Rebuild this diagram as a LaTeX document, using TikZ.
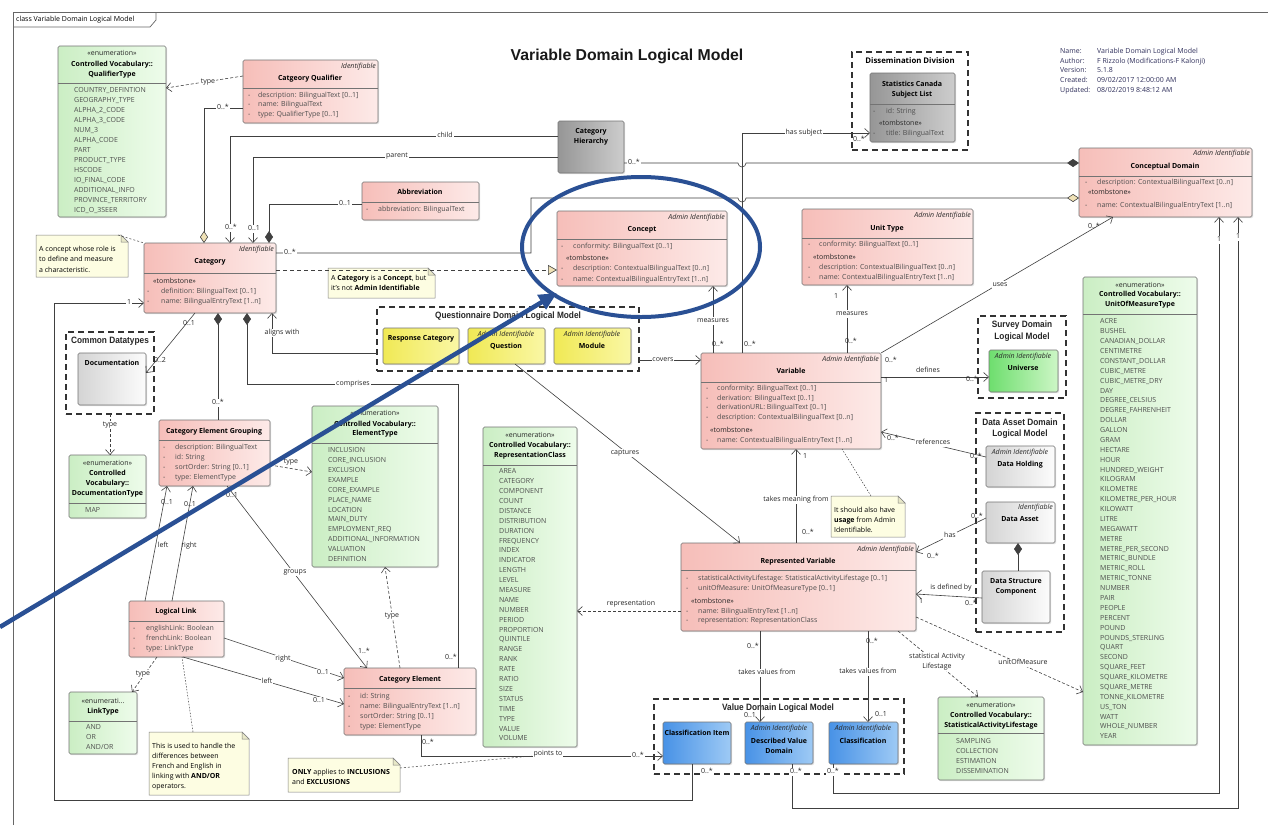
\documentclass[tikz,border=0pt]{standalone}
\usepackage{fontspec}
\setmainfont{Open Sans}
\newfontfamily\pkgfont[FakeStretch=0.9]{Liberation Sans}
\newfontfamily\titlefont{Liberation Sans}
\usepackage{xcolor}
\usetikzlibrary{arrows.meta, shadows, calc}

\definecolor{pinkL}{RGB}{246,190,185}
\definecolor{pinkR}{RGB}{253,234,232}
\definecolor{greenL}{RGB}{203,238,196}
\definecolor{greenR}{RGB}{238,252,235}
\definecolor{grayL}{RGB}{150,150,150}
\definecolor{grayR}{RGB}{205,205,205}
\definecolor{lgrayL}{RGB}{212,212,212}
\definecolor{lgrayR}{RGB}{252,252,252}
\definecolor{yelL}{RGB}{240,233,85}
\definecolor{yelR}{RGB}{250,247,165}
\definecolor{blueL}{RGB}{72,146,230}
\definecolor{blueR}{RGB}{158,202,245}
\definecolor{univL}{RGB}{110,222,110}
\definecolor{univR}{RGB}{205,246,198}
\definecolor{notefill}{RGB}{253,253,226}
\definecolor{notefold}{RGB}{232,232,200}
\definecolor{diafill}{RGB}{240,226,182}
\definecolor{annot}{RGB}{42,80,148}
\definecolor{txt}{RGB}{78,78,78}
\definecolor{infotxt}{RGB}{48,48,92}

\newcommand\umlbox[6]{\node[#1, minimum width=#5pt-#3pt, minimum height=#6pt-#4pt] (#2) at (#3,#4) {};}
\newcommand\umlattr[5]{\node[item] (#1-d) at (#2,#4) {-}; \node[item] (#1) at (#3,#4) {#5};}
\newcommand\umlitems[5]{\foreach \e [count=\i] in {#5} {\node[item] (#1-\i) at (#2,#3+#4*\i-#4) {\e};}}
\newcommand\rowline[2]{\draw[sepline] (#1.west |- 0,#2) -- (#1.east |- 0,#2);}
\newcommand\umlnote[5]{%
  \node[noteframe, minimum width=#4pt-#2pt, minimum height=#5pt-#3pt] (#1) at (#2,#3) {};
  \filldraw[notebox] (#1.north west) -- ($(#1.north east)+(-7,0)$) -- ($(#1.north east)+(0,7)$) -- (#1.south east) -- (#1.south west) -- cycle;
  \filldraw[notebox, fill=notefold] ($(#1.north east)+(-7,0)$) -- ($(#1.north east)+(-7,7)$) -- ($(#1.north east)+(0,7)$) -- cycle;}

\begin{document}
\begin{tikzpicture}[x=1pt, y=-1pt]
    \tikzstyle{classbox} = [rectangle, draw=black!55, line width=0.6pt, rounded corners=1.5pt, inner sep=0pt, outer sep=0pt, anchor=north west, drop shadow={shadow xshift=1.2pt, shadow yshift=-1.2pt, opacity=0.25}]
    \tikzstyle{pinkbox} = [classbox, left color=pinkL, right color=pinkR]
    \tikzstyle{greenbox} = [classbox, left color=greenL, right color=greenR]
    \tikzstyle{graybox} = [classbox, left color=grayL, right color=grayR]
    \tikzstyle{whitebox} = [classbox, left color=lgrayL, right color=lgrayR]
    \tikzstyle{yellowbox} = [classbox, left color=yelL, right color=yelR]
    \tikzstyle{bluebox} = [classbox, left color=blueL, right color=blueR]
    \tikzstyle{univbox} = [classbox, left color=univL, right color=univR]
    \tikzstyle{pkg} = [rectangle, draw=black!80, line width=1.5pt, dash pattern=on 6pt off 4pt, inner sep=0pt, outer sep=0pt, anchor=north west]
    \tikzstyle{noteframe} = [rectangle, inner sep=0pt, outer sep=0pt, anchor=north west]
    \tikzstyle{notebox} = [draw=black!50, line width=0.5pt, fill=notefill]
    \tikzstyle{sepline} = [draw=black!55, line width=0.6pt]
    \tikzstyle{item} = [font=\fontsize{7}{9}\selectfont, text=txt, anchor=west, inner sep=0pt, text height=5.2pt, text depth=1.5pt]
    \tikzstyle{cname} = [font=\fontsize{7}{9}\selectfont\bfseries, text=black, inner sep=0pt, text height=5.4pt, text depth=1.6pt]
    \tikzstyle{ster} = [font=\fontsize{7}{9}\selectfont\itshape, text=black!85, inner sep=0pt, anchor=east, text height=5.2pt, text depth=1.5pt]
    \tikzstyle{lbl} = [font=\fontsize{7}{9}\selectfont, text=black!85, inner sep=0.8pt, text height=5.2pt, text depth=1.5pt]
    \tikzstyle{onl} = [lbl, fill=white]
    \tikzstyle{lbltwo} = [font=\fontsize{7}{10}\selectfont, text=black!85, inner sep=0.8pt, align=center, fill=white]
    \tikzstyle{notetext} = [font=\fontsize{7}{9}\selectfont, text=black, anchor=west, inner sep=0pt, text height=5.2pt, text depth=1.5pt]
    \tikzstyle{pkgtitle} = [font=\pkgfont\bfseries\fontsize{9.2}{10}\selectfont, text=black!85, inner sep=0pt]
    \tikzstyle{info} = [font=\fontsize{7}{9}\selectfont, text=infotxt, anchor=west, inner sep=0pt, text height=5.2pt, text depth=1.5pt]
    \tikzstyle{conn} = [draw=black!75, line width=0.6pt]
    \tikzstyle{nav} = [conn, -{Straight Barb[length=5pt,width=9pt]}]
    \tikzstyle{dep} = [nav, dash pattern=on 3pt off 2pt]
    \tikzstyle{comp} = [conn, {Diamond[length=12pt,width=8pt]}-]
    \tikzstyle{compend} = [conn, -{Diamond[length=12pt,width=8pt]}]
    \tikzstyle{aggr} = [conn, {Diamond[length=12pt,width=8pt,fill=diafill]}-]
    \tikzstyle{aggrend} = [conn, -{Diamond[length=12pt,width=8pt,fill=diafill]}]
    \tikzstyle{real} = [conn, dash pattern=on 4pt off 3pt, -{Triangle[length=9pt,width=10pt,fill=diafill]}]
    \tikzstyle{notelink} = [conn, line width=0.5pt, dash pattern=on 1.5pt off 1.5pt]

    \fill[white] (0,0) rectangle (1268,825);
    \useasboundingbox (0,0) rectangle (1268,825);

    \draw[black!60, line width=0.7pt] (13,825) -- (13,12) -- (1268,12);
    \draw[black!60, line width=0.7pt] (13,27) -- (150,27) -- (156,20) -- (156,12);
    \node[notetext] (framelbl) at (16,19.5) {class Variable Domain Logical Model};
    \node[font=\titlefont\bfseries\fontsize{15.8}{18}\selectfont, text=black!90] (title) at (627,56) {Variable Domain Logical Model};

    \node[info] (info-k1) at (1060,52) {Name:};
    \node[info] (info-k2) at (1060,62) {Author:};
    \node[info] (info-k3) at (1060,71) {Version:};
    \node[info] (info-k4) at (1060,81) {Created:};
    \node[info] (info-k5) at (1060,91) {Updated:};
    \node[info] (info-v1) at (1097,52) {Variable Domain Logical Model};
    \node[info] (info-v2) at (1097,62) {F Rizzolo (Modifications-F Kalonji)};
    \node[info] (info-v3) at (1097,71) {5.1.8};
    \node[info] (info-v4) at (1097,81) {09/02/2017 12:00:00 AM};
    \node[info] (info-v5) at (1097,91) {08/02/2019 8:48:12 AM};

    \umlbox{pkg}{disspkg}{852}{52}{968}{150}
    \umlbox{pkg}{questpkg}{377}{307}{639}{371}
    \umlbox{pkg}{commonpkg}{66}{332}{154}{414}
    \umlbox{pkg}{surveypkg}{978}{316}{1066}{398}
    \umlbox{pkg}{assetpkg}{976}{413}{1064}{632}
    \umlbox{pkg}{valpkg}{654}{699}{904}{774}
    \node[cname, font=\fontsize{7.8}{10}\selectfont\bfseries] (diss-t) at (910,62) {Dissemination Division};
    \node[pkgtitle] (quest-t) at (508,316) {Questionnaire Domain Logical Model};
    \node[pkgtitle] (common-t) at (110,341) {Common Datatypes};
    \node[pkgtitle] (survey-t1) at (1022,325) {Survey Domain};
    \node[pkgtitle] (survey-t2) at (1022,337) {Logical Model};
    \node[pkgtitle] (asset-t1) at (1020,422) {Data Asset Domain};
    \node[pkgtitle] (asset-t2) at (1020,434) {Logical Model};
    \node[pkgtitle] (val-t) at (778,708) {Value Domain Logical Model};

    \umlbox{greenbox}{qtype}{58}{46}{166}{217}
    \umlbox{pinkbox}{cq}{243}{60}{378}{123}
    \umlbox{graybox}{chier}{558}{121}{624}{173}
    \umlbox{pinkbox}{abbr}{362}{182}{479}{220}
    \umlbox{pinkbox}{concept}{557}{211}{727}{286}
    \umlbox{graybox}{subj}{870}{73}{955}{142}
    \umlbox{pinkbox}{cdom}{1079}{148}{1252}{217}
    \umlbox{pinkbox}{unit}{802}{209}{973}{285}
    \umlbox{pinkbox}{cat}{144}{243}{276}{313}
    \umlbox{whitebox}{doc}{78}{353}{146}{405}
    \umlbox{yellowbox}{resp}{383}{328}{459}{364}
    \umlbox{yellowbox}{quest}{468}{328}{545}{364}
    \umlbox{yellowbox}{module}{554}{328}{631}{364}
    \umlbox{pinkbox}{var}{701}{353}{881}{449}
    \umlbox{univbox}{univ}{989}{350}{1058}{392}
    \umlbox{whitebox}{dhold}{986}{446}{1055}{487}
    \umlbox{whitebox}{dasset}{986}{502}{1055}{543}
    \umlbox{whitebox}{dsc}{982}{571}{1050}{623}
    \umlbox{greenbox}{uom}{1083}{277}{1197}{745}
    \umlbox{pinkbox}{ceg}{159}{420}{270}{486}
    \umlbox{greenbox}{etype}{312}{406}{438}{567}
    \umlbox{greenbox}{doctype}{69}{455}{146}{518}
    \umlbox{greenbox}{rclass}{483}{427}{577}{747}
    \umlbox{pinkbox}{rv}{681}{543}{916}{631}
    \umlbox{pinkbox}{ce}{344}{668}{476}{735}
    \umlbox{pinkbox}{ll}{129}{601}{224}{657}
    \umlbox{greenbox}{ltype}{69}{692}{137}{754}
    \umlbox{bluebox}{citem}{663}{722}{731}{764}
    \umlbox{bluebox}{dvd}{745}{722}{813}{764}
    \umlbox{bluebox}{cls}{829}{722}{898}{764}
    \umlbox{greenbox}{salife}{938}{697}{1044}{780}

    \rowline{qtype}{83} \rowline{cq}{88} \rowline{abbr}{202} \rowline{concept}{239}
    \rowline{subj}{104} \rowline{cdom}{176} \rowline{unit}{238} \rowline{cat}{273}
    \rowline{var}{382} \rowline{uom}{314} \rowline{ceg}{440} \rowline{etype}{443}
    \rowline{doctype}{503} \rowline{rclass}{465} \rowline{rv}{570} \rowline{ce}{688}
    \rowline{ll}{621} \rowline{ltype}{721} \rowline{salife}{733}

    \node[lbl, inner sep=0pt] (qtype-s) at (112,54) {«enumeration»};
    \node[cname] (qtype-n1) at (112,65) {Controlled Vocabulary::};
    \node[cname] (qtype-n2) at (112,75) {QualifierType};
    \umlitems{qtype-i}{74}{90.7}{10}{COUNTRY\_DEFINTION, GEOGRAPHY\_TYPE, ALPHA\_2\_CODE, ALPHA\_3\_CODE, NUM\_3, ALPHA\_CODE, PART, PRODUCT\_TYPE, HSCODE, IO\_FINAL\_CODE, ADDITIONAL\_INFO, PROVINCE\_TERRITORY, ICD\_O\_3SEER}

    \node[ster] (cq-s) at (376,67) {Identifiable};
    \node[cname] (cq-n) at (310,79) {Catgeory Qualifier};
    \umlattr{cq-a1}{248}{258}{96}{description: BilingualText [0..1]}
    \umlattr{cq-a2}{248}{258}{105}{name: BilingualText}
    \umlattr{cq-a3}{248}{258}{115}{type: QualifierType [0..1]}

    \node[cname] (chier-n1) at (591,132) {Category};
    \node[cname] (chier-n2) at (591,142) {Hierarchy};

    \node[cname] (abbr-n) at (420,193) {Abbreviation};
    \umlattr{abbr-a1}{366}{378}{210}{abbreviation: BilingualText}

    \node[ster] (concept-s) at (725,218) {Admin Identifiable};
    \node[cname] (concept-n) at (642,230) {Concept};
    \umlattr{concept-a1}{561}{573}{247}{conformity: BilingualText [0..1]}
    \node[lbl, anchor=west, inner sep=0pt] (concept-t) at (566,259) {«tombstone»};
    \umlattr{concept-a2}{561}{573}{269}{description: ContextualBilingualText [0..n]}
    \umlattr{concept-a3}{561}{573}{280}{name: ContextualBilingualEntryText [1..n]}

    \node[cname] (subj-n1) at (912,85) {Statistics Canada};
    \node[cname] (subj-n2) at (912,95) {Subject List};
    \umlattr{subj-a1}{873}{886}{112}{id: String}
    \node[lbl, anchor=west, inner sep=0pt] (subj-t) at (879,124) {«tombstone»};
    \umlattr{subj-a2}{873}{886}{134}{title: BilingualText}

    \node[ster] (cdom-s) at (1250,154) {Admin Identifiable};
    \node[cname] (cdom-n) at (1165,167) {Conceptual Domain};
    \umlattr{cdom-a1}{1085}{1097}{183}{description: ContextualBilingualText [0..n]}
    \node[lbl, anchor=west, inner sep=0pt] (cdom-t) at (1088,193) {«tombstone»};
    \umlattr{cdom-a2}{1085}{1097}{206}{name: ContextualBilingualEntryText [1..n]}

    \node[ster] (unit-s) at (971,216) {Admin Identifiable};
    \node[cname] (unit-n) at (887,229) {Unit Type};
    \umlattr{unit-a1}{808}{819}{245}{conformity: BilingualText [0..1]}
    \node[lbl, anchor=west, inner sep=0pt] (unit-t) at (813,258) {«tombstone»};
    \umlattr{unit-a2}{808}{819}{268}{description: ContextualBilingualText [0..n]}
    \umlattr{unit-a3}{808}{819}{278}{name: ContextualBilingualEntryText [1..n]}

    \node[ster] (cat-s) at (274,250) {Identifiable};
    \node[cname] (cat-n) at (210,262) {Category};
    \node[lbl, anchor=west, inner sep=0pt] (cat-t) at (153,282) {«tombstone»};
    \umlattr{cat-a1}{147}{161}{292}{definition: BilingualText [0..1]}
    \umlattr{cat-a2}{147}{161}{302}{name: BilingualEntryText [1..n]}

    \node[cname] (doc-n) at (112,364) {Documentation};

    \node[cname] (resp-n) at (421,339) {Response Category};
    \node[ster, anchor=center] (quest-s) at (506,335) {Admin Identifiable};
    \node[cname] (quest-n) at (506,347) {Question};
    \node[ster, anchor=center] (module-s) at (592,335) {Admin Identifiable};
    \node[cname] (module-n) at (592,347) {Module};

    \node[ster] (var-s) at (879,360) {Admin Identifiable};
    \node[cname] (var-n) at (791,372) {Variable};
    \umlattr{var-a1}{706}{717}{389}{conformity: BilingualText [0..1]}
    \umlattr{var-a2}{706}{717}{399}{derivation: BilingualText [0..1]}
    \umlattr{var-a3}{706}{717}{408}{derivationURL: BilingualText [0..1]}
    \umlattr{var-a4}{706}{717}{418}{description: ContextualBilingualText [0..n]}
    \node[lbl, anchor=west, inner sep=0pt] (var-t) at (710,431) {«tombstone»};
    \umlattr{var-a5}{706}{717}{441}{name: ContextualBilingualEntryText [1..n]}

    \node[ster, anchor=center] (univ-s) at (1023,357) {Admin Identifiable};
    \node[cname] (univ-n) at (1023,369) {Universe};
    \node[ster, anchor=center] (dhold-s) at (1020,453) {Admin Identifiable};
    \node[cname] (dhold-n) at (1020,465) {Data Holding};
    \node[ster] (dasset-s) at (1053,508) {Identifiable};
    \node[cname] (dasset-n) at (1020,520) {Data Asset};
    \node[cname] (dsc-n1) at (1016,582) {Data Structure};
    \node[cname] (dsc-n2) at (1016,592) {Component};

    \node[lbl, inner sep=0pt] (uom-s) at (1140,286) {«enumeration»};
    \node[cname] (uom-n1) at (1140,295) {Controlled Vocabulary::};
    \node[cname] (uom-n2) at (1140,305) {UnitOfMeasureType};
    \umlitems{uom-i}{1100}{322}{9.88}{ACRE, BUSHEL, CANADIAN\_DOLLAR, CENTIMETRE, CONSTANT\_DOLLAR, CUBIC\_METRE, CUBIC\_METRE\_DRY, DAY, DEGREE\_CELSIUS, DEGREE\_FAHRENHEIT, DOLLAR, GALLON, GRAM, HECTARE, HOUR, HUNDRED\_WEIGHT, KILOGRAM, KILOMETRE, KILOMETRE\_PER\_HOUR, KILOWATT, LITRE, MEGAWATT, METRE, METRE\_PER\_SECOND, METRIC\_BUNDLE, METRIC\_ROLL, METRIC\_TONNE, NUMBER, PAIR, PEOPLE, PERCENT, POUND, POUNDS\_STERLING, QUART, SECOND, SQUARE\_FEET, SQUARE\_KILOMETRE, SQUARE\_METRE, TONNE\_KILOMETRE, US\_TON, WATT, WHOLE\_NUMBER, YEAR}

    \node[cname] (ceg-n) at (214,432) {Category Element Grouping};
    \umlattr{ceg-a1}{163}{175}{448}{description: BilingualText}
    \umlattr{ceg-a2}{163}{175}{458}{id: String}
    \umlattr{ceg-a3}{163}{175}{468}{sortOrder: String [0..1]}
    \umlattr{ceg-a4}{163}{175}{478}{type: ElementType}

    \node[lbl, inner sep=0pt] (etype-s) at (375,414) {«enumeration»};
    \node[cname] (etype-n1) at (375,425) {Controlled Vocabulary::};
    \node[cname] (etype-n2) at (375,434) {ElementType};
    \umlitems{etype-i}{328}{451}{9.87}{INCLUSION, CORE\_INCLUSION, EXCLUSION, EXAMPLE, CORE\_EXAMPLE, PLACE\_NAME, LOCATION, MAIN\_DUTY, EMPLOYMENT\_REQ, ADDITIONAL\_INFORMATION, VALUATION, DEFINITION}

    \node[lbl, inner sep=0pt] (doctype-s) at (107.5,464) {«enumeration»};
    \node[cname] (doctype-n1) at (107.5,474) {Controlled};
    \node[cname] (doctype-n2) at (107.5,484) {Vocabulary::};
    \node[cname] (doctype-n3) at (107.5,494) {DocumentationType};
    \node[item] (doctype-i1) at (85,511) {MAP};

    \node[lbl, inner sep=0pt] (rclass-s) at (530,436) {«enumeration»};
    \node[cname] (rclass-n1) at (530,446) {Controlled Vocabulary::};
    \node[cname] (rclass-n2) at (530,456) {RepresentationClass};
    \umlitems{rclass-i}{499}{472}{9.89}{AREA, CATEGORY, COMPONENT, COUNT, DISTANCE, DISTRIBUTION, DURATION, FREQUENCY, INDEX, INDICATOR, LENGTH, LEVEL, MEASURE, NAME, NUMBER, PERIOD, PROPORTION, QUINTILE, RANGE, RANK, RATE, RATIO, SIZE, STATUS, TIME, TYPE, VALUE, VOLUME}

    \node[ster] (rv-s) at (914,550) {Admin Identifiable};
    \node[cname] (rv-n) at (798,562) {Represented Variable};
    \umlattr{rv-a1}{686}{698}{579}{statisticalActivityLifestage: StatisticalActivityLifestage [0..1]}
    \umlattr{rv-a2}{686}{698}{589}{unitOfMeasure: UnitOfMeasureType [0..1]}
    \node[lbl, anchor=west, inner sep=0pt] (rv-t) at (691,602) {«tombstone»};
    \umlattr{rv-a3}{686}{698}{612}{name: BilingualEntryText [1..n]}
    \umlattr{rv-a4}{686}{698}{621}{representation: RepresentationClass}

    \node[cname] (ce-n) at (410,680) {Category Element};
    \umlattr{ce-a1}{348}{360}{697}{id: String}
    \umlattr{ce-a2}{348}{360}{707}{name: BilingualEntryText [1..n]}
    \umlattr{ce-a3}{348}{360}{717}{sortOrder: String [0..1]}
    \umlattr{ce-a4}{348}{360}{727}{type: ElementType}

    \node[cname] (ll-n) at (176,612) {Logical Link};
    \umlattr{ll-a1}{133}{146}{629}{englishLink: Boolean}
    \umlattr{ll-a2}{133}{146}{639}{frenchLink: Boolean}
    \umlattr{ll-a3}{133}{146}{649}{type: LinkType}

    \node[lbl, inner sep=0pt] (ltype-s) at (103,702) {«enumerati...};
    \node[cname] (ltype-n) at (103,712) {LinkType};
    \umlitems{ltype-i}{86}{728}{10}{AND, OR, AND/OR}

    \node[cname] (citem-n) at (697,734) {Classification Item};
    \node[ster, anchor=center] (dvd-s) at (779,729) {Admin Identifiable};
    \node[cname] (dvd-n1) at (779,742) {Described Value};
    \node[cname] (dvd-n2) at (779,752) {Domain};
    \node[ster, anchor=center] (cls-s) at (863,729) {Admin Identifiable};
    \node[cname] (cls-n) at (863,742) {Classification};

    \node[lbl, inner sep=0pt] (salife-s) at (991,706) {«enumeration»};
    \node[cname] (salife-n1) at (991,716) {Controlled Vocabulary::};
    \node[cname] (salife-n2) at (991,726) {StatisticalActivityLifestage};
    \umlitems{salife-i}{956}{742}{10}{SAMPLING, COLLECTION, ESTIMATION, DISSEMINATION}

    \umlnote{n1}{36}{235}{128}{277}
    \node[notetext] (n1-l1) at (39,250) {A concept whose role is};
    \node[notetext] (n1-l2) at (39,260) {to define and measure};
    \node[notetext] (n1-l3) at (39,271) {a characteristic.};
    \umlnote{n2}{328}{268}{435}{298}
    \node[notetext] (n2-l1) at (331,279) {A \textbf{Category} is a \textbf{Concept}, but};
    \node[notetext] (n2-l2) at (331,289) {it's not \textbf{Admin Identifiable}};
    \umlnote{n3}{831}{496}{905}{537}
    \node[notetext] (n3-l1) at (834,511) {It should also have};
    \node[notetext] (n3-l2) at (834,521) {\textbf{usage} from Admin};
    \node[notetext] (n3-l3) at (834,531) {Identifiable.};
    \umlnote{n4}{288}{758}{400}{792}
    \node[notetext] (n4-l1) at (292,773) {\textbf{ONLY} applies to \textbf{INCLUSIONS}};
    \node[notetext] (n4-l2) at (292,783) {and \textbf{EXCLUSIONS}};
    \umlnote{n5}{149}{732}{249}{795}
    \node[notetext] (n5-l1) at (152,747) {This is used to handle the};
    \node[notetext] (n5-l2) at (152,757) {differences between};
    \node[notetext] (n5-l3) at (152,767) {French and English in};
    \node[notetext] (n5-l4) at (152,777) {linking with \textbf{AND/OR}};
    \node[notetext] (n5-l5) at (152,787) {operators.};

    \draw[dep] (cq.west |- 0,76) -- (qtype.east |- 0,88);
    \draw[aggr] (204,0 |- cat.north) |- (cq.west |- 0,108);
    \draw[nav] (chier.west |- 0,136) -| (230,0 |- cat.north);
    \draw[nav] (chier.west |- 0,157) -| (253,0 |- cat.north);
    \draw[comp] (269,0 |- cat.north) |- (abbr.west |- 0,204);
    \draw[compend] (chier.east |- 0,163) -- (738,163) arc[start angle=180, end angle=0, radius=4] -- (cdom.west |- 0,163);
    \draw[aggrend] (cat.east |- 0,253) -| (531,198) -- (738,198) arc[start angle=180, end angle=0, radius=4] -- (cdom.west |- 0,198);
    \draw[nav] (742,0 |- var.north) |- (subj.west |- 0,133);
    \draw[nav] (713,0 |- var.north) -- (713,0 |- concept.south);
    \draw[nav] (847,0 |- var.north) -- (847,0 |- unit.south);
    \draw[nav] (var.north east) -- (1113,0 |- cdom.south);
    \draw[nav] (questpkg.east |- 0,360) -- (var.west |- 0,360);
    \draw[nav] (questpkg.west |- 0,353) -| (272,0 |- cat.south);
    \draw[nav] (195,0 |- cat.south) -- (doc.east |- 0,373);
    \draw[comp] (218,0 |- cat.south) -- (218,0 |- ceg.north);
    \draw[comp] (247,0 |- cat.south) |- (458,384) -- (458,0 |- ce.north);
    \draw[dep] (110,0 |- commonpkg.south) -- (110,0 |- doctype.north);
    \draw[dep] (ceg.east |- 0,465) -- (etype.west |- 0,472);
    \draw[dep] (400,0 |- ce.north) -- (385,0 |- etype.south);
    \draw[nav] (227,0 |- ceg.south) -- (367,0 |- ce.north);
    \draw[nav] (145,0 |- ll.north) -- (167,0 |- ceg.south);
    \draw[nav] (172,0 |- ll.north) -- (193,0 |- ceg.south);
    \draw[nav] (ll.east |- 0,638) -- (ce.west |- 0,678);
    \draw[nav] (183,0 |- ll.south) -- (ce.west |- 0,704);
    \draw[dep] (157,0 |- ll.south) -- (132,0 |- ltype.north);
    \draw[notelink] (193,0 |- n5.north) -- (182,0 |- ll.south);
    \draw[notelink, dash pattern=on 2pt off 2pt] (118,0 |- n1.north) -- (cat.north west);
    \draw[real] (cat.east |- 0,270) -- (concept.west |- 0,270);
    \draw[nav] (515,0 |- quest.south) -- (740,0 |- rv.north);
    \draw[dep] (rv.west |- 0,611) -- (rclass.east |- 0,611);
    \draw[nav] (796,0 |- rv.north) -- (796,0 |- var.south);
    \draw[notelink] (871,0 |- n3.north) -- (842,0 |- var.south);
    \draw[nav] (dhold.west |- 0,457) -- (var.east |- 0,432);
    \draw[nav] (dasset.west |- 0,518) -- (rv.east |- 0,552);
    \draw[nav] (dsc.west |- 0,598) -- (rv.east |- 0,594);
    \draw[comp] (1018,0 |- dasset.south) -- (1018,0 |- dsc.north);
    \draw[nav] (var.east |- 0,377) -- (univ.west |- 0,377);
    \draw[nav] (760,0 |- rv.south) -- (760,0 |- dvd.north);
    \draw[nav] (868,0 |- rv.south) -- (868,0 |- cls.north);
    \draw[dep] (898,0 |- rv.south) -- (978,0 |- salife.north);
    \draw[dep] (rv.east |- 0,617) -- (uom.west |- 0,692);
    \draw[nav] (421,0 |- ce.south) |- (citem.west |- 0,756);
    \coordinate (ptnote) at (532,756);
    \draw[notelink, dash pattern=on 2pt off 2pt] (n4.east |- 0,768) -- (ptnote);
    \draw[nav] (692,0 |- citem.south) |- (54,800) |- (cat.west |- 0,303);
    \draw[nav] (792,0 |- dvd.south) |- (1238,808) -- (1238,0 |- cdom.south);
    \draw[nav] (833,0 |- cls.south) |- (1219,793) -- (1219,0 |- cdom.south);

    \node[onl] (l-cqtype) at (208,82) {type};
    \node[onl] (m-cq) at (223,108) {0..*};
    \node[onl] (l-child) at (445,136) {child};
    \node[onl] (m-child) at (231,228) {0..*};
    \node[onl] (l-parent) at (397,156) {parent};
    \node[onl] (m-parent) at (254,229) {0..1};
    \node[onl] (m-abbr) at (345,204) {0..1};
    \node[onl] (m-chier) at (634,163) {0..*};
    \node[onl] (m-catcdom) at (290,253) {0..*};
    \node[onl] (l-subj) at (804,133) {has subject};
    \node[lbl] (m-subj1) at (750,345) {0..*};
    \node[lbl] (m-subj2) at (859,140) {0..*};
    \node[onl] (l-meas1) at (713,321) {measures};
    \node[lbl] (m-meas1) at (718,345) {0..*};
    \node[lbl] (m-meas2a) at (836,297) {1};
    \node[onl] (l-meas2) at (852,314) {measures};
    \node[lbl] (m-meas2b) at (851,342) {0..*};
    \node[onl] (l-uses) at (1000,285) {uses};
    \node[lbl] (m-uses1) at (891,361) {0..*};
    \node[lbl] (m-uses2) at (1094,227) {0..*};
    \node[onl] (l-covers) at (663,360) {covers};
    \node[onl] (l-aligns) at (282,333) {aligns with};
    \node[lbl] (m-doc1) at (189,324) {0..1};
    \node[lbl] (m-doc2) at (160,361) {0..2};
    \node[onl] (m-ceg) at (218,403) {0..*};
    \node[onl] (l-comprises) at (353,384) {comprises};
    \node[lbl] (m-comprises) at (451,658) {0..*};
    \node[onl] (l-doctype) at (110,425) {type};
    \node[lbl] (l-cegtype) at (291,462) {type};
    \node[onl] (l-cetype) at (392,616) {type};
    \node[lbl] (m-groups1) at (232,496) {0..1};
    \node[onl] (l-groups) at (295,572) {groups};
    \node[lbl] (m-groups2) at (364,652) {1..*};
    \node[lbl] (m-left1) at (167,503) {0..1};
    \node[lbl] (l-left1) at (163,546) {left};
    \node[lbl] (m-right1) at (190,505) {0..1};
    \node[lbl] (l-right1) at (189,546) {right};
    \node[onl] (l-right2) at (283,659) {right};
    \node[onl] (m-right2) at (323,673) {0..1};
    \node[onl] (l-left2) at (267,682) {left};
    \node[onl] (m-left2) at (319,701) {0..1};
    \node[onl] (l-lltype) at (143,674) {type};
    \node[onl] (l-captures) at (625,453) {captures};
    \node[lbl] (l-repr) at (631,604) {representation};
    \node[lbl] (m-tm1) at (805,457) {1};
    \node[onl] (l-tm) at (796,500) {takes meaning from};
    \node[lbl] (m-tm2) at (808,533) {0..*};
    \node[lbl] (m-ref1) at (893,439) {0..*};
    \node[onl] (l-ref) at (933,443) {references};
    \node[lbl] (m-ref2) at (976,457) {0..*};
    \node[lbl] (m-has1) at (977,517) {0..*};
    \node[onl] (l-has) at (950,536) {has};
    \node[lbl] (m-has2) at (933,557) {0..*};
    \node[lbl] (l-isdef) at (951,588) {is defined by};
    \node[lbl] (m-isdef1) at (921,602) {1};
    \node[lbl] (m-isdef2) at (971,604) {0..*};
    \node[lbl] (m-def1) at (886,381) {1};
    \node[lbl] (l-def) at (928,371) {defines};
    \node[lbl] (m-def2) at (972,380) {0..*};
    \node[lbl] (m-tv1a) at (753,647) {0..*};
    \node[onl] (l-tv1) at (767,673) {takes values from};
    \node[lbl] (m-tv1b) at (750,716) {0..1};
    \node[lbl] (m-tv2a) at (872,642) {0..*};
    \node[onl] (l-tv2) at (868,672) {takes values from};
    \node[lbl] (m-tv2b) at (881,715) {0..1};
    \node[lbltwo] (l-sal) at (937,662) {statistical Activity\\Lifestage};
    \node[onl] (l-uom) at (1023,663) {unitOfMeasure};
    \node[lbl] (m-pt1) at (428,743) {0..*};
    \node[onl] (l-pt) at (548,754) {points to};
    \node[onl] (m-pt2) at (638,756) {0..*};
    \node[onl] (m-ci1) at (707,772) {0..*};
    \node[onl] (m-ci2) at (129,303) {1};
    \node[onl] (m-dvd1) at (796,772) {0..*};
    \node[onl] (m-dvd2) at (1238,237) {1};
    \node[onl] (m-cls1) at (833,772) {0..*};
    \node[onl] (m-cls2) at (1219,240) {1};

    \draw[annot, line width=4pt] (641,247) ellipse [x radius=119, y radius=70];
    \coordinate (blue-start) at (0,627);
    \coordinate (blue-tip) at (557,293);
    \draw[annot, line width=4.5pt, -{Triangle[length=18pt,width=16pt]}] (blue-start) -- (blue-tip);
\end{tikzpicture}
\end{document}
